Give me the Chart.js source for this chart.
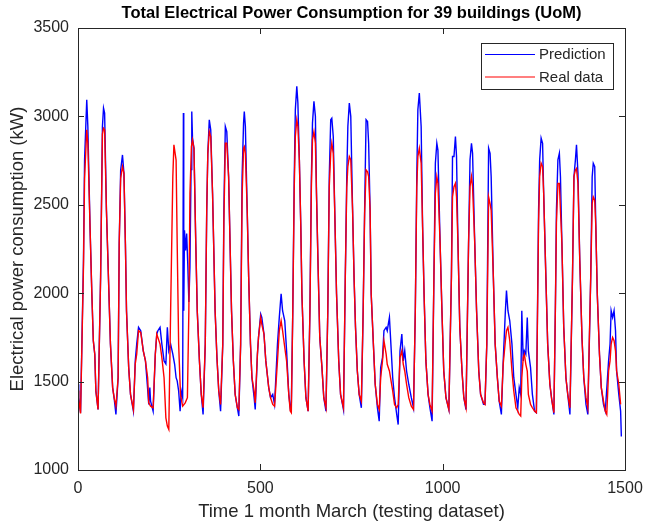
<!DOCTYPE html>
<html>
<head>
<meta charset="utf-8">
<title>Total Electrical Power Consumption for 39 buildings (UoM)</title>
<script src="https://cdn.jsdelivr.net/npm/chart.js@4.4.1/dist/chart.umd.min.js"></script>
<style>
  html, body { margin: 0; padding: 0; background: #ffffff; }
  #c { display: block; }
</style>
</head>
<body>
<canvas id="c" width="645" height="527"></canvas>
<script>
// Half-hourly samples over March (index 0..1488), total load of 39 buildings in kW.
const predT = [0,2,7,15,18,24,27,33,38,42,46,49,55,62,67,70,73,78,84,89,95,99,104,110,113,117,122,126,130,133,139,144,152,157,161,166,172,179,185,190,194,197,199,206,212,216,219,225,230,236,241,245,249,254,260,265,269,272,276,280,283,287,289,290,292,295,298,301,304,307,310,312,314,318,323,327,333,338,343,349,353,356,360,364,369,372,376,381,386,391,397,400,404,408,413,417,421,426,431,437,441,446,450,454,456,459,464,468,473,477,483,486,492,495,501,504,510,515,523,528,534,539,547,552,557,561,567,572,578,582,585,589,593,596,600,603,607,611,614,620,625,631,636,640,643,647,651,654,658,663,669,674,680,685,689,693,696,700,704,709,715,720,728,733,737,740,744,748,753,757,761,766,771,777,782,786,790,794,797,801,804,810,815,821,826,830,835,839,845,848,854,857,863,868,874,878,883,888,892,896,901,907,914,920,925,929,932,936,941,945,949,954,960,965,971,976,980,984,987,993,998,1003,1009,1017,1024,1027,1031,1035,1038,1042,1047,1053,1058,1064,1071,1075,1079,1082,1088,1093,1099,1104,1112,1116,1121,1126,1130,1133,1139,1144,1150,1155,1161,1166,1172,1175,1179,1184,1190,1195,1201,1206,1210,1214,1217,1221,1224,1228,1232,1235,1241,1246,1252,1257,1263,1266,1270,1274,1277,1283,1288,1294,1299,1305,1309,1312,1316,1320,1323,1327,1332,1338,1343,1349,1356,1360,1364,1367,1371,1376,1382,1387,1393,1398,1406,1410,1413,1417,1420,1424,1430,1435,1441,1446,1455,1459,1462,1466,1470,1474,1477,1483,1488,1490];
const predKW = [1485,1409,1324,2185,2753,3094,2943,2375,1996,1731,1655,1447,1342,2091,2943,3047,3019,2469,2053,1712,1466,1409,1314,1522,2280,2697,2782,2678,2280,1901,1579,1428,1333,1617,1712,1807,1788,1674,1617,1485,1371,1466,1390,1333,1655,1769,1788,1807,1712,1617,1600,1807,1674,1712,1655,1598,1522,1504,1447,1333,1447,1409,3019,1901,2356,2242,2337,2166,1950,2150,2700,3028,2877,2820,2280,1901,1617,1428,1314,1712,2469,2791,2981,2924,2564,2280,1901,1636,1447,1333,1712,2469,2943,2914,2659,2280,1901,1617,1428,1352,1305,1712,2659,2962,3028,2943,2469,2091,1712,1522,1409,1342,1655,1750,1882,1863,1769,1617,1466,1409,1428,1371,1712,1863,1996,1901,1844,1674,1428,1352,1371,1901,2659,3038,3170,3075,2754,2375,1996,1617,1409,1333,1901,2659,2962,3085,3000,2564,2185,1750,1579,1409,1333,1901,2659,2981,2990,2886,2469,1996,1617,1428,1342,2091,2659,2943,3075,3000,2469,2091,1807,1560,1428,1352,1901,2469,2981,2971,2848,2469,1996,1712,1485,1352,1276,1579,1636,1788,1807,1788,1863,1750,1522,1409,1314,1257,1674,1769,1617,1674,1560,1485,1409,1352,1901,2659,3038,3132,2943,2375,1996,1617,1428,1352,1276,2091,2735,2848,2810,2280,1901,1560,1409,1342,2091,2773,2773,2886,2773,2280,1807,1560,1409,1342,2280,2754,2848,2791,2280,1901,1560,1428,1371,1371,1712,2820,2791,2659,2091,1712,1522,1390,1314,1617,1901,2015,1901,1844,1712,1522,1428,1352,1466,1428,1901,1617,1674,1655,1863,1674,1579,1428,1333,1324,2469,2754,2877,2848,2564,2091,1712,1485,1400,1314,1901,2469,2754,2791,2659,2280,1807,1522,1428,1314,2091,2659,2754,2839,2678,2185,1750,1522,1371,1314,2091,2659,2735,2716,2375,1996,1655,1466,1371,1333,1617,1712,1901,1863,1901,1788,1560,1428,1333,1190];

const realT = [0,2,7,15,18,24,27,33,38,42,46,49,55,62,67,70,73,78,84,89,95,99,104,110,113,117,122,126,130,133,139,144,152,157,161,166,172,179,185,191,194,199,206,212,216,219,225,230,236,241,245,249,254,260,263,269,272,276,281,287,294,300,304,307,311,314,318,323,327,333,338,343,349,353,356,360,364,369,372,376,381,386,391,397,400,404,408,413,417,421,426,431,437,441,446,450,454,456,459,464,468,473,477,483,486,492,495,501,504,510,515,523,528,534,539,547,552,557,561,567,572,578,582,585,589,593,596,600,603,607,611,614,620,625,631,636,640,643,647,651,654,658,663,669,674,680,685,689,693,696,700,704,709,715,720,728,733,737,740,744,748,753,757,761,766,771,777,782,786,790,794,797,801,804,810,815,821,826,830,835,839,845,848,854,857,863,868,874,878,883,888,892,896,901,907,914,920,925,929,932,936,941,945,949,954,960,965,971,976,980,984,987,993,998,1003,1009,1017,1024,1027,1031,1035,1038,1042,1047,1053,1058,1064,1071,1075,1079,1082,1088,1093,1099,1104,1112,1116,1121,1126,1130,1133,1139,1144,1150,1155,1161,1166,1172,1175,1179,1184,1190,1195,1201,1206,1210,1214,1217,1221,1224,1228,1232,1235,1241,1246,1252,1257,1263,1266,1270,1274,1277,1283,1288,1294,1299,1305,1309,1312,1316,1320,1323,1327,1332,1338,1343,1349,1356,1360,1364,1367,1371,1376,1382,1387,1393,1398,1406,1410,1413,1417,1420,1424,1430,1435,1441,1446,1450,1455,1459,1462,1466,1470,1474,1477,1483,1488];
const realKW = [1450,1400,1320,2150,2650,2924,2848,2375,1996,1731,1655,1447,1342,2091,2900,2933,2924,2469,2053,1712,1466,1409,1361,1522,2280,2650,2716,2678,2280,1901,1579,1428,1342,1600,1655,1788,1778,1674,1617,1522,1380,1361,1352,1655,1769,1750,1712,1636,1522,1295,1248,1229,1901,2659,2839,2753,2280,1712,1428,1361,1380,1409,1901,2564,2829,2867,2820,2280,1901,1617,1428,1352,1712,2469,2791,2914,2886,2564,2280,1901,1636,1447,1371,1712,2400,2848,2848,2659,2280,1901,1617,1428,1352,1342,1712,2550,2820,2829,2791,2469,2091,1712,1522,1447,1380,1655,1750,1863,1825,1769,1617,1466,1409,1371,1361,1617,1788,1844,1788,1693,1617,1428,1333,1324,1901,2600,2886,2981,2943,2754,2375,1996,1617,1409,1333,1901,2600,2867,2914,2848,2564,2185,1750,1579,1409,1352,1901,2600,2791,2848,2791,2469,1996,1617,1428,1352,2091,2600,2716,2773,2754,2469,2091,1807,1560,1428,1390,1901,2450,2697,2687,2659,2469,1996,1712,1485,1371,1342,1522,1617,1731,1655,1598,1560,1522,1447,1371,1352,1371,1636,1674,1598,1560,1485,1409,1361,1342,1901,2600,2773,2820,2735,2375,1996,1617,1428,1371,1333,2091,2564,2659,2621,2280,1901,1560,1409,1342,2091,2545,2602,2621,2545,2280,1807,1560,1409,1352,2280,2602,2659,2602,2280,1901,1560,1428,1380,1371,1712,2545,2507,2469,2091,1712,1522,1390,1361,1598,1731,1788,1807,1731,1560,1447,1352,1333,1314,1305,1522,1636,1655,1598,1560,1428,1371,1352,1333,1324,2400,2659,2735,2716,2564,2091,1712,1485,1400,1324,1901,2400,2621,2621,2469,2280,1807,1522,1428,1352,2091,2659,2697,2706,2621,2185,1750,1522,1409,1352,2091,2507,2545,2526,2375,1996,1655,1466,1390,1333,1314,1560,1617,1712,1750,1731,1674,1560,1485,1371];

const xTicks = [0, 500, 1000, 1500];
const yTicks = [1000, 1500, 2000, 2500, 3000, 3500];

const titleText = 'Total Electrical Power Consumption for 39 buildings (UoM)';
const xTitle = 'Time 1 month March (testing dataset)';
const yTitle = 'Electrical power consumption (kW)';

const toPoints = (ts, vs) => ts.map((t, i) => ({ x: t, y: vs[i] }));

const AXIS_COLOR = '#262626';
const FONT = '"Liberation Sans", Arial, Helvetica, sans-serif';

// Boxed axes with inward tick marks on all four sides, plus the title.
const framePlugin = {
  id: 'frame',
  afterDatasetsDraw(chart) {
    const { ctx, chartArea: a, scales } = chart;
    const xs = scales.x, ys = scales.y;
    const L = 6;
    ctx.save();
    ctx.strokeStyle = AXIS_COLOR;
    ctx.lineWidth = 1;
    ctx.beginPath();
    xTicks.forEach(v => {
      const px = Math.round(xs.getPixelForValue(v)) + 0.5;
      ctx.moveTo(px, a.bottom); ctx.lineTo(px, a.bottom - L);
      ctx.moveTo(px, a.top); ctx.lineTo(px, a.top + L);
    });
    yTicks.forEach(v => {
      const py = Math.round(ys.getPixelForValue(v)) + 0.5;
      ctx.moveTo(a.left, py); ctx.lineTo(a.left + L, py);
      ctx.moveTo(a.right, py); ctx.lineTo(a.right - L, py);
    });
    ctx.stroke();
    ctx.strokeRect(Math.round(a.left) + 0.5, Math.round(a.top) + 0.5,
                   Math.round(a.right) - Math.round(a.left), Math.round(a.bottom) - Math.round(a.top));
    ctx.fillStyle = '#000000';
    ctx.font = 'bold 16.5px ' + FONT;
    ctx.textAlign = 'center';
    ctx.textBaseline = 'middle';
    ctx.fillText(titleText, (a.left + a.right) / 2, 13);
    ctx.restore();
  }
};

// Boxed legend in the upper-right corner of the plot.
const legendPlugin = {
  id: 'boxLegend',
  afterDraw(chart) {
    const { ctx, chartArea: a } = chart;
    const bx = Math.round(a.right) - 12 - 132, by = Math.round(a.top) + 15, bw = 132, bh = 46;
    ctx.save();
    ctx.fillStyle = '#ffffff';
    ctx.fillRect(bx, by, bw, bh);
    ctx.strokeStyle = AXIS_COLOR;
    ctx.lineWidth = 1;
    ctx.strokeRect(bx + 0.5, by + 0.5, bw, bh);
    ctx.font = '15px ' + FONT;
    ctx.textAlign = 'left';
    ctx.textBaseline = 'middle';
    chart.data.datasets.forEach((ds, i) => {
      const ly = by + 11.5 + i * 22.5;
      ctx.strokeStyle = ds.borderColor;
      ctx.lineWidth = 1.2;
      ctx.beginPath();
      ctx.moveTo(bx + 4, ly); ctx.lineTo(bx + 54, ly);
      ctx.stroke();
      ctx.fillStyle = AXIS_COLOR;
      ctx.fillText(ds.label, bx + 58, ly + 0.5);
    });
    ctx.restore();
  }
};

new Chart(document.getElementById('c'), {
  type: 'line',
  data: {
    datasets: [
      {
        label: 'Prediction',
        data: toPoints(predT, predKW),
        borderColor: '#0000ff',
        borderWidth: 1.4,
        pointRadius: 0,
        tension: 0,
        order: 1
      },
      {
        label: 'Real data',
        data: toPoints(realT, realKW),
        borderColor: '#ff0000',
        borderWidth: 1.4,
        pointRadius: 0,
        tension: 0,
        order: 0
      }
    ]
  },
  options: {
    responsive: false,
    animation: false,
    devicePixelRatio: 1,
    layout: { padding: { top: 28, right: 20, bottom: 0, left: 0 } },
    plugins: {
      legend: { display: false },
      title: { display: false },
      tooltip: { enabled: false }
    },
    scales: {
      x: {
        type: 'linear',
        min: 0,
        max: 1500,
        afterBuildTicks: s => { s.ticks = xTicks.map(v => ({ value: v })); },
        afterFit: s => { s.height = 57; s.paddingLeft = 0; s.paddingRight = 0; },
        grid: { display: false, drawTicks: false },
        border: { display: false },
        ticks: { color: AXIS_COLOR, font: { family: FONT, size: 16 }, padding: 9, maxRotation: 0, callback: v => String(v) },
        title: { display: true, text: xTitle, color: AXIS_COLOR, font: { family: FONT, size: 18.5 }, padding: { top: 0, bottom: 4 } }
      },
      y: {
        type: 'linear',
        min: 1000,
        max: 3500,
        afterBuildTicks: s => { s.ticks = yTicks.map(v => ({ value: v })); },
        afterFit: s => { s.width = 78; s.paddingTop = 0; s.paddingBottom = 0; },
        grid: { display: false, drawTicks: false },
        border: { display: false },
        ticks: { color: AXIS_COLOR, font: { family: FONT, size: 16 }, padding: 9, callback: v => String(v) },
        title: { display: true, text: yTitle, color: AXIS_COLOR, font: { family: FONT, size: 18.5 }, padding: { top: 7, bottom: 0 } }
      }
    }
  },
  plugins: [framePlugin, legendPlugin]
});
</script>
</body>
</html>
